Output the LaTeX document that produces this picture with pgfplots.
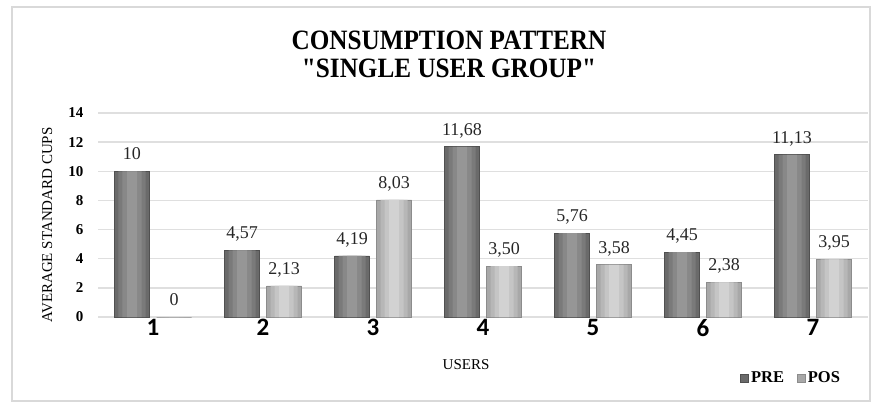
\documentclass[border=0pt]{standalone}
\usepackage{fontspec}
\setmainfont{Liberation Serif}
\newfontfamily\titlefont[FakeStretch=0.9]{Liberation Serif}
\newfontfamily\tickfont{Carlito}
\usepackage{pgfplots}
\usepackage{pgfplotstable}
\pgfplotsset{compat=1.18}
\definecolor{preA}{HTML}{6A6A6A}
\definecolor{preB}{HTML}{7A7A7A}
\definecolor{preC}{HTML}{888888}
\definecolor{preD}{HTML}{969696}
\definecolor{preLine}{HTML}{505050}
\definecolor{posA}{HTML}{A8A8A8}
\definecolor{posB}{HTML}{B7B7B7}
\definecolor{posC}{HTML}{C5C5C5}
\definecolor{posD}{HTML}{D2D2D2}
\definecolor{posLine}{HTML}{8C8C8C}

\pgfplotstableread{
x y lab
0 10 10
1 4.57 4,57
2 4.19 4,19
3 11.68 11,68
4 5.76 5,76
5 4.45 4,45
6 11.13 11,13
}\pre
\pgfplotstableread{
x y lab
0 0 0
1 2.13 2,13
2 8.03 8,03
3 3.50 3,50
4 3.58 3,58
5 2.38 2,38
6 3.95 3,95
}\pos

\begin{document}
\begin{tikzpicture}
\useasboundingbox (0pt,0pt) rectangle (878pt,408pt);
\draw[gray!30, line width=1.5pt] (12pt,7pt) rectangle (870pt,401pt);
\node[font=\titlefont\bfseries\fontsize{28}{28}\selectfont, align=center] at (449pt,354pt) {CONSUMPTION PATTERN\\"SINGLE USER GROUP"};
\begin{axis}[
  at={(98pt,91pt)}, anchor=south west,
  scale only axis, width=770pt, height=204pt,
  xmin=-0.5, xmax=6.5, ymin=0, ymax=14,
  ytick={0,2,...,14}, xtick={0,...,6}, xticklabels={1,2,3,4,5,6,7},
  /pgf/number format/assume math mode=true,
  ymajorgrids, major grid style={gray!25, line width=1.3pt},
  axis line style={draw=none},
  major tick length=0pt,
  yticklabel style={font=\bfseries\fontsize{15}{15}\selectfont, xshift=-11pt},
  xticklabel style={font=\tickfont\bfseries\fontsize{25}{25}\selectfont, yshift=1pt},
  xlabel={USERS},
  xlabel style={at={(axis description cs:0.478,-0.235)}, anchor=center, font=\fontsize{15}{15}\selectfont},
  ylabel={AVERAGE STANDARD CUPS},
  ylabel style={at={(axis description cs:-0.066,0.451)}, anchor=center, font=\fontsize{15}{15}\selectfont},
  legend style={at={(axis description cs:0.83,-0.30)}, anchor=west, draw=none, fill=none, legend columns=2, font=\bfseries\fontsize{16.5}{16.5}\selectfont, /tikz/every even column/.append style={column sep=11pt}},
  legend image code/.code={\draw[#1] (0pt,-4pt) rectangle (8pt,4pt);},
  lbl/.style={nodes near coords, point meta=explicit symbolic,
    every node near coord/.append style={font=\fontsize{18}{18}\selectfont, anchor=south, text depth=0pt, yshift=8pt, xshift=#1, text=black!85}},
]
\addplot[ybar, bar width=35pt, bar shift=-21pt, draw=preLine, line width=0.8pt, fill=preA, lbl=-21pt] table[x=x, y=y, meta=lab] {\pre};
\addplot[ybar, bar width=35pt, bar shift=21pt, draw=posLine, line width=0.8pt, fill=posA, lbl=21pt] table[x=x, y=y, meta=lab] {\pos};
\addplot[ybar, forget plot, bar width=27pt, bar shift=-21pt, draw=none, fill=preB] table[x=x, y=y] {\pre};
\addplot[ybar, forget plot, bar width=19pt, bar shift=-21pt, draw=none, fill=preC] table[x=x, y=y] {\pre};
\addplot[ybar, forget plot, bar width=10pt, bar shift=-21pt, draw=none, fill=preD] table[x=x, y=y] {\pre};
\addplot[ybar, forget plot, bar width=27pt, bar shift=21pt, draw=none, fill=posB] table[x=x, y=y] {\pos};
\addplot[ybar, forget plot, bar width=19pt, bar shift=21pt, draw=none, fill=posC] table[x=x, y=y] {\pos};
\addplot[ybar, forget plot, bar width=10pt, bar shift=21pt, draw=none, fill=posD] table[x=x, y=y] {\pos};
\legend{PRE, POS}
\end{axis}
\end{tikzpicture}
\end{document}
